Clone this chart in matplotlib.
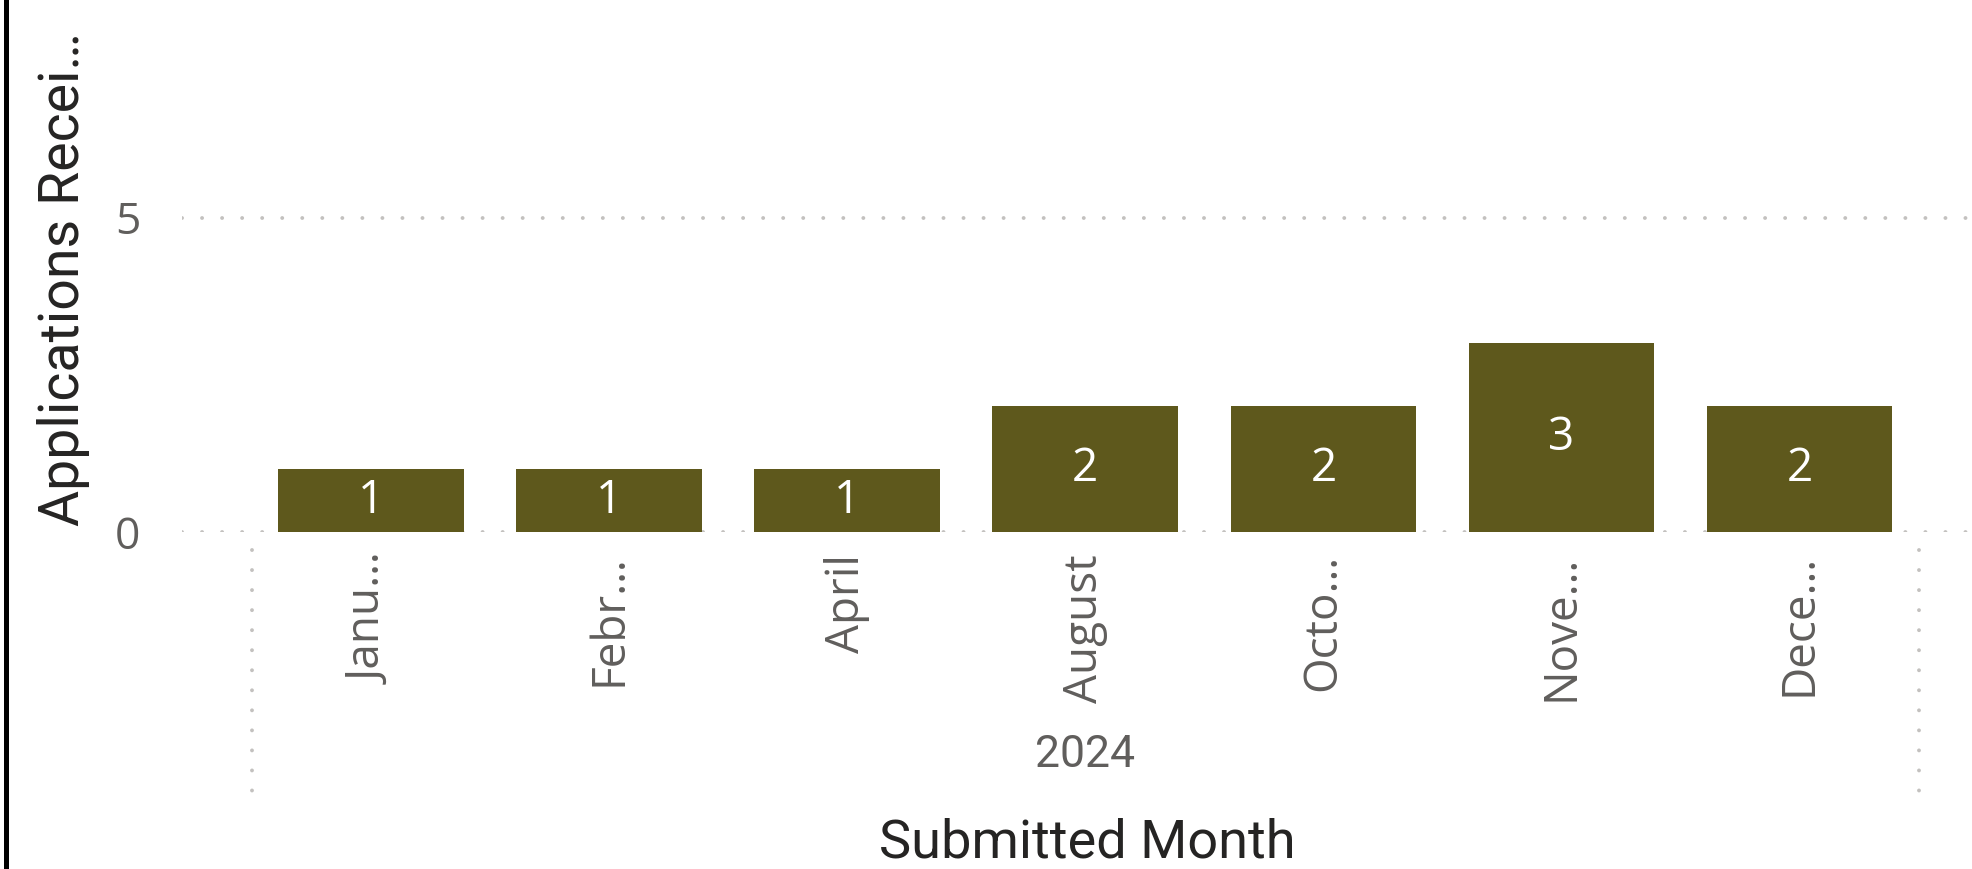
import matplotlib
matplotlib.use("Agg")
import matplotlib.pyplot as plt
from matplotlib import font_manager
from matplotlib.lines import Line2D
from matplotlib.patches import Rectangle

## DATA ##

months = ['January', 'February', 'April', 'August', 'October', 'November', 'December']
month_labels = ['Janu…', 'Febr…', 'April', 'August', 'Octo…', 'Nove…', 'Dece…']
applications = [1, 1, 1, 2, 2, 3, 2]
year_label = '2024'
y_ticks = [0, 5]

## FONTS ##

installed = {f.name for f in font_manager.fontManager.ttflist}
body_font = 'Open Sans' if 'Open Sans' in installed else 'DejaVu Sans'
title_font = 'Roboto' if 'Roboto' in installed else 'DejaVu Sans'

bar_color = '#5E581C'
grid_color = '#C3C1BF'
label_gray = '#605E5C'
title_color = '#252423'

## FIGURE ##

W, H = 1972, 869
fig = plt.figure(figsize=(W / 100, H / 100), dpi=100)
ax = fig.add_axes([182 / W, 337 / H, 1 - 182 / W, 1 - 337 / H])

x = list(range(len(months)))
ax.bar(x, applications, width=0.78, color=bar_color, zorder=3)

# value labels centred in each bar
for xi, v in zip(x, applications):
    ax.text(xi, v / 2, str(v), ha='center', va='center', color='white',
            fontsize=33, family=body_font, zorder=4)

ax.set_xlim(-0.794, 6.724)
ax.set_ylim(0, 8.46)

# dotted horizontal gridlines
lw = 2.8
for yt in y_ticks:
    ax.axhline(yt, color=grid_color, linewidth=lw, dashes=(0.01, 14.4 / lw),
               dash_capstyle='round', zorder=2)

ax.set_yticks(y_ticks)
ax.set_yticklabels([str(t) for t in y_ticks], fontsize=32, family=body_font, color=label_gray)
ax.set_xticks(x)
ax.set_xticklabels(month_labels, rotation=90, fontsize=33, family=body_font, color=label_gray)
ax.tick_params(axis='x', length=0, pad=16)
ax.tick_params(axis='y', length=0, pad=30)

for s in ax.spines.values():
    s.set_visible(False)

# group boundary lines below the axis
for xb in [x[0] - 0.5, x[-1] + 0.5]:
    ax.add_line(Line2D([xb, xb], [-0.29, -4.18], color=grid_color, linewidth=lw,
                       dashes=(0.01, 14.4 / lw), dash_capstyle='round', clip_on=False))

# year label
ax.text((x[0] + x[-1]) / 2, -3.55, year_label, ha='center', va='center',
        fontsize=32, family=title_font, color=label_gray)

# axis titles
fig.text(1087 / W, 1 - 843 / H, 'Submitted Month', ha='center', va='center',
         fontsize=39, family=title_font, color=title_color)
fig.text(63 / W, 1 - 279 / H, 'Applications Recei…', ha='center', va='center',
         rotation=90, fontsize=40, family=title_font, color=title_color)

# left border of the visual
fig.add_artist(Rectangle((4 / W, 0), 5 / W, 1, transform=fig.transFigure,
                         facecolor='black', edgecolor='none'))

fig.savefig('out.png', dpi=100)
